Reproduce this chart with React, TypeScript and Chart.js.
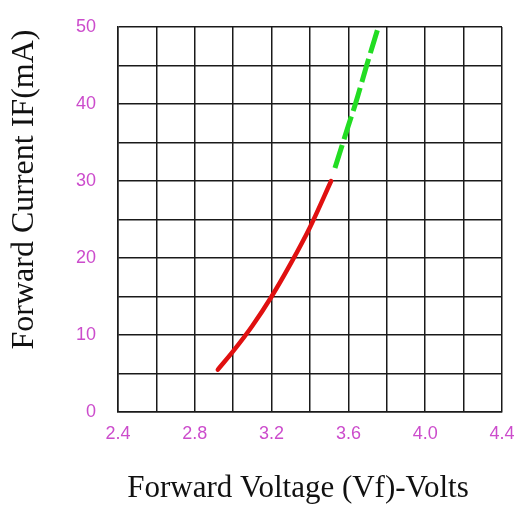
import React, { useEffect, useRef } from "react";
import { Chart, registerables } from "chart.js";

Chart.register(...registerables);

const redVolts = [2.92, 3.0, 3.1, 3.2, 3.3, 3.4, 3.51];
const redCurrent = [5.5, 7.9, 11.2, 15, 19.3, 24, 30];
const greenVolts = [3.53, 3.6, 3.64, 3.695, 3.756];
const greenCurrent = [31.7, 37.2, 40.3, 45, 50];

const xTitle = "Forward Voltage (Vf)-Volts";
const yTitle = "Forward Current IF(mA)";
const xMin = 2.4, xMax = 4.4, xStep = 0.2, xLabelEvery = 0.4;
const yMin = 0, yMax = 50, yStep = 5, yLabelEvery = 10;

const tickColor = "#cc4ccc";

const axisTitles = {
  id: "axisTitles",
  afterDraw(chart: any) {
    const { ctx, chartArea } = chart;
    ctx.save();
    ctx.fillStyle = "#111";
    ctx.font = "31px 'Liberation Serif'";
    ctx.textAlign = "center";
    ctx.textBaseline = "alphabetic";
    const cx = (chartArea.left + chartArea.right) / 2 - 12;
    ctx.fillText(xTitle, cx, 497);
    const cy = (chartArea.top + chartArea.bottom) / 2 - 30;
    ctx.translate(33, cy);
    ctx.rotate(-Math.PI / 2);
    ctx.font = "32px 'Liberation Serif'";
    ctx.fillText(yTitle, 0, 0);
    ctx.restore();
  },
};

export default function App() {
  const ref = useRef<HTMLCanvasElement>(null);
  useEffect(() => {
    document.body.style.margin = "0";
    const ctx = ref.current!;
    const chart = new Chart(ctx, {
      type: "line",
      data: {
        datasets: [
          {
            data: redVolts.map((v, i) => ({ x: v, y: redCurrent[i] })),
            borderColor: "#e01010",
            borderWidth: 4.5,
            pointRadius: 0,
            cubicInterpolationMode: "monotone",
            borderCapStyle: "round",
          },
          {
            data: greenVolts.map((v, i) => ({ x: v, y: greenCurrent[i] })),
            borderColor: "#22dd22",
            borderWidth: 5,
            pointRadius: 0,
            borderDash: [24, 6],
            cubicInterpolationMode: "monotone",
          },
        ],
      },
      options: {
        animation: false,
        responsive: false,
        maintainAspectRatio: false,
        layout: { padding: { left: 8, right: 24, top: 27, bottom: 0 } },
        plugins: { legend: { display: false }, tooltip: { enabled: false } },
        scales: {
          x: {
            type: "linear",
            min: xMin,
            max: xMax,
            afterFit: (s: any) => { s.height = 99; },
            grid: { color: "#1a1a1a", lineWidth: 1.5, drawTicks: false },
            border: { color: "#1a1a1a", width: 1.5 },
            ticks: {
              stepSize: xStep,
              padding: 11,
              color: tickColor,
              autoSkip: false,
              maxRotation: 0,
              font: { family: "Liberation Sans", size: 18 },
              callback: (v: any) => {
                const n = Number(v);
                const k = Math.round((n - xMin) / xLabelEvery * 1000) / 1000;
                return Number.isInteger(k) ? n.toFixed(1) : "";
              },
            },
          },
          y: {
            type: "linear",
            min: yMin,
            max: yMax,
            afterFit: (s: any) => {
              s.width = 110;
              s.paddingTop = 0;
              s.paddingBottom = 0;
            },
            grid: { color: "#1a1a1a", lineWidth: 1.5, drawTicks: false },
            border: { color: "#1a1a1a", width: 1.5 },
            ticks: {
              stepSize: yStep,
              padding: 22,
              color: tickColor,
              autoSkip: false,
              font: { family: "Liberation Sans", size: 18 },
              callback: (v: any) => (Number(v) % yLabelEvery === 0 ? String(v) : ""),
            },
          },
        },
      },
      plugins: [axisTitles],
    });
    return () => chart.destroy();
  }, []);
  return (
    <div style={{ width: 526, height: 511, background: "#fff" }}>
      <canvas ref={ref} width={526} height={511} style={{ display: "block" }} />
    </div>
  );
}
